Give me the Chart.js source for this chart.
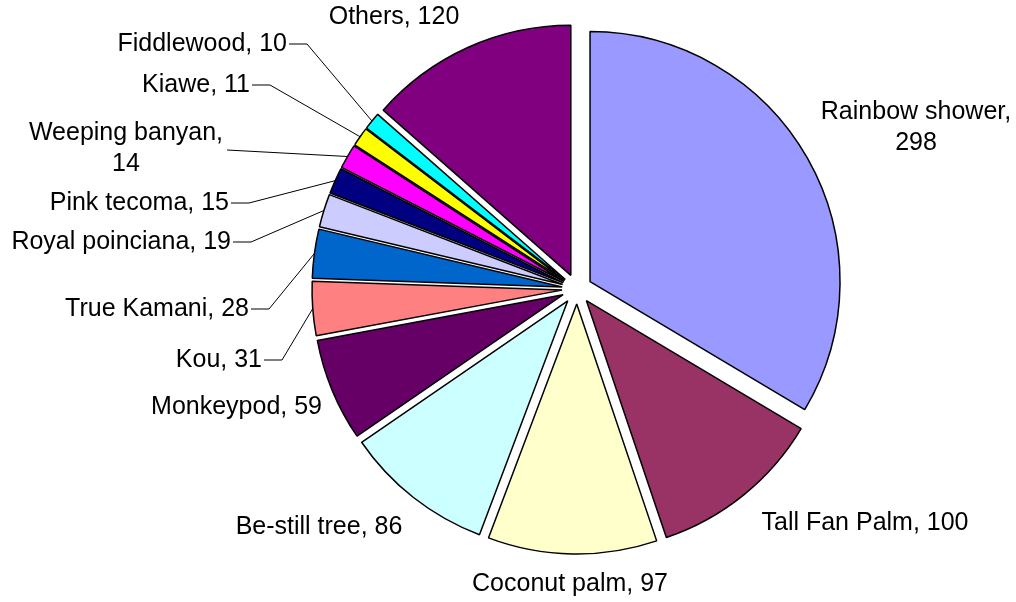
<!DOCTYPE html>
<html>
<head>
<meta charset="utf-8">
<script src="https://cdn.jsdelivr.net/npm/chart.js@4/dist/chart.umd.min.js"></script>
<style>
  body { margin: 0; background: #fff; }
  #wrap { width: 1016px; height: 602px; }
</style>
</head>
<body>
<div id="wrap"><canvas id="treeChart" width="1016" height="602"></canvas></div>
<script>
const categories = ['Rainbow shower', 'Tall Fan Palm', 'Coconut palm', 'Be-still tree', 'Monkeypod', 'Kou',
    'True Kamani', 'Royal poinciana', 'Pink tecoma', 'Weeping banyan', 'Kiawe', 'Fiddlewood', 'Others'];
const treeCounts = [298, 100, 97, 86, 59, 31, 28, 19, 15, 14, 11, 10, 120];
const sliceColors = ['#9999FF', '#993366', '#FFFFCC', '#CCFFFF', '#660066', '#FF8080',
    '#0066CC', '#CCCCFF', '#000080', '#FF00FF', '#FFFF00', '#00FFFF', '#800080'];

// where each label sits, relative to the pie centre
const labelSpots = [
    { dx: 339, dy: -161, align: 'center', wrap: true },
    { dx: 288, dy: 234, align: 'center' },
    { dx: -7, dy: 295, align: 'center' },
    { dx: -258, dy: 238, align: 'center' },
    { dx: -255, dy: 118, align: 'right' },
    { dx: -315, dy: 71, align: 'right', leader: true },
    { dx: -328, dy: 20, align: 'right', leader: true },
    { dx: -346, dy: -47, align: 'right', leader: true },
    { dx: -348, dy: -86, align: 'right', leader: true },
    { dx: -451, dy: -140, align: 'center', wrap: true, leader: true },
    { dx: -327, dy: -204, align: 'right', leader: true },
    { dx: -290, dy: -245, align: 'right', leader: true },
    { dx: -183, dy: -272, align: 'center' }
];

const EXPLODE = 15;
const FONT = '25px "Liberation Sans", Arial, sans-serif';
const LINE_H = 31;

// every slice pulled out by the same distance, like an exploded Excel pie
const explodePlugin = {
    id: 'explode',
    beforeDatasetDraw(chart, args) {
        const ctx = chart.ctx;
        args.meta.data.forEach(arc => {
            const mid = (arc.startAngle + arc.endAngle) / 2;
            ctx.save();
            ctx.translate(Math.cos(mid) * EXPLODE, Math.sin(mid) * EXPLODE);
            arc.draw(ctx);
            ctx.restore();
        });
        return false;
    }
};

const labelPlugin = {
    id: 'sliceLabels',
    afterDraw(chart) {
        const ctx = chart.ctx;
        const arcs = chart.getDatasetMeta(0).data;
        ctx.save();
        ctx.font = FONT;
        ctx.fillStyle = '#000';
        ctx.strokeStyle = '#000';
        ctx.lineWidth = 1;
        ctx.textBaseline = 'middle';
        arcs.forEach((arc, i) => {
            const spot = labelSpots[i];
            const lx = arc.x + spot.dx;
            const ly = arc.y + spot.dy;
            const lines = spot.wrap
                ? [categories[i] + ',', String(treeCounts[i])]
                : [categories[i] + ', ' + treeCounts[i]];
            ctx.textAlign = spot.align;
            const top = ly - (lines.length - 1) * LINE_H / 2;
            lines.forEach((t, k) => ctx.fillText(t, lx, top + k * LINE_H));

            if (spot.leader) {
                const w = Math.max(...lines.map(t => ctx.measureText(t).width));
                let sx = spot.align === 'right' ? lx + 2 : lx + w / 2 + 4;
                const sy = ly + (spot.wrap ? 1 : 0);
                const mid = (arc.startAngle + arc.endAngle) / 2;
                const r = arc.outerRadius + EXPLODE;
                const ex = arc.x + Math.cos(mid) * r;
                const ey = arc.y + Math.sin(mid) * r;
                ctx.beginPath();
                ctx.moveTo(sx, sy);
                if (!spot.wrap) {
                    sx += 18;
                    ctx.lineTo(sx, sy);
                }
                ctx.lineTo(ex, ey);
                ctx.stroke();
            }
        });
        ctx.restore();
    }
};

new Chart(document.getElementById('treeChart').getContext('2d'), {
    type: 'pie',
    data: {
        labels: categories,
        datasets: [{
            data: treeCounts,
            backgroundColor: sliceColors,
            borderColor: '#000',
            borderWidth: 1.5
        }]
    },
    options: {
        responsive: false,
        animation: false,
        devicePixelRatio: 1,
        radius: 250,
        layout: { padding: { left: 138, right: 0, top: 0, bottom: 24 } },
        plugins: {
            legend: { display: false },
            tooltip: { enabled: false }
        },
        events: []
    },
    plugins: [explodePlugin, labelPlugin]
});
</script>
</body>
</html>
